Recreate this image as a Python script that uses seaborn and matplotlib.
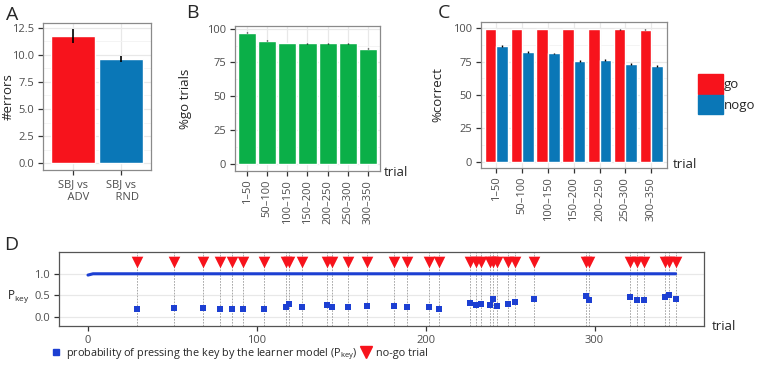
import numpy as np
import pandas as pd
import matplotlib
matplotlib.use("Agg")
import matplotlib.pyplot as plt
import seaborn as sns
from matplotlib.lines import Line2D
from matplotlib.patches import Patch
from matplotlib.ticker import AutoMinorLocator

# ---- data ----
# A: number of errors
a_groups = ["SBJ vs\n    ADV", "SBJ vs\n    RND"]
a_errors = [11.75, 9.6]
a_sem = [0.63, 0.29]

# B / C: trial bins
bins = ["1–50", "50–100", "100–150", "150–200", "200–250", "250–300", "300–350"]
b_go_pct = [97.0, 91.0, 89.4, 89.1, 89.1, 89.1, 85.1]
b_sem = [0.3, 0.4, 0.3, 0.3, 0.3, 0.3, 0.3]

c_go = [99.6, 99.6, 99.6, 99.6, 99.5, 99.2, 99.0]
c_go_sem = [0.2, 0.2, 0.2, 0.2, 0.2, 0.3, 0.3]
c_nogo = [87.0, 82.2, 81.2, 75.7, 76.2, 73.5, 71.7]
c_nogo_sem = [0.7, 0.7, 0.7, 0.6, 0.6, 0.6, 0.6]

# D: learner model Pkey on no-go trials
d_nogo_trials = [29, 51, 68, 78, 85, 92, 104, 117, 119, 127, 141.5, 144.5, 154, 165,
                 181, 189, 202, 208, 226, 230, 233, 238, 240, 242, 249, 253, 264,
                 295, 297, 321, 325, 329, 342, 344, 348]
d_pkey = [0.19, 0.21, 0.21, 0.19, 0.17, 0.17, 0.19, 0.23, 0.30, 0.23, 0.28, 0.23, 0.23, 0.24,
          0.26, 0.23, 0.23, 0.19, 0.32, 0.27, 0.29, 0.28, 0.42, 0.25, 0.29, 0.35, 0.41,
          0.48, 0.38, 0.46, 0.39, 0.39, 0.46, 0.51, 0.42]
# Pkey on go trials (near 1 throughout)
d_go_trial = [0, 3, 348]
d_go_pkey = [0.97, 1.0, 1.0]

red = "#F7131C"
blue = "#0A77B7"
green = "#0BAF48"
dblue = "#1C3FD2"

sns.set_style("white")
plt.rcParams['font.family'] = ['Open Sans', 'DejaVu Sans']
plt.rcParams['mathtext.default'] = 'regular'


def style(ax, border="#8a8a8a", xgrid=True):
    for s in ax.spines.values():
        s.set_visible(True)
        s.set_color(border)
        s.set_linewidth(0.9)
    ax.set_axisbelow(True)
    ax.yaxis.set_minor_locator(AutoMinorLocator(2))
    ax.grid(True, which="major", axis="y", color="#e8e8e8", lw=0.9)
    ax.grid(True, which="minor", axis="y", color="#f3f3f3", lw=0.6)
    if xgrid:
        ax.grid(True, which="major", axis="x", color="#e8e8e8", lw=0.9)
    ax.tick_params(which="major", direction="out", length=3.5, width=0.9,
                   color="#333333", labelcolor="#4d4d4d", labelsize=8, pad=3,
                   bottom=True, left=True)
    ax.tick_params(which="minor", length=0)


def right_xlabel(ax, y, x=1.02):
    ax.set_xlabel("trial", fontsize=9.5)
    ax.xaxis.set_label_coords(x, y)
    ax.xaxis.label.set_ha("left")
    ax.xaxis.label.set_va("center")


fig = plt.figure(figsize=(7.57, 3.70), dpi=100)
axA = fig.add_axes([0.0572, 0.5405, 0.1418, 0.3981])
axB = fig.add_axes([0.3104, 0.5386, 0.1916, 0.3911])
axC = fig.add_axes([0.6354, 0.5468, 0.2453, 0.3929])
axD = fig.add_axes([0.0783, 0.1189, 0.8521, 0.1992])

# ---- A ----
sns.barplot(x=a_groups, y=a_errors, hue=a_groups, palette=[red, blue],
            width=0.9, saturation=1, legend=False, ax=axA)
xa = [p.get_x() + p.get_width() / 2 for p in axA.patches]
axA.errorbar(xa, a_errors, yerr=a_sem, fmt="none", ecolor="black", elinewidth=1.2)
style(axA)
axA.set_xlim(-0.6, 1.6)
axA.set_ylim(-0.62, 12.96)
axA.set_yticks([0, 2.5, 5, 7.5, 10, 12.5])
axA.set_ylabel("#errors", fontsize=9.5)
axA.yaxis.set_label_coords(-0.27, 0.5)

# ---- B ----
sns.barplot(x=bins, y=b_go_pct, color=green, width=0.9, saturation=1, ax=axB)
xb = [p.get_x() + p.get_width() / 2 for p in axB.patches]
axB.errorbar(xb, b_go_pct, yerr=b_sem, fmt="none", ecolor="black", elinewidth=1)
style(axB)
axB.set_xlim(-0.6, 6.6)
axB.set_ylim(-4.85, 101.9)
axB.set_yticks([0, 25, 50, 75, 100])
axB.set_ylabel("%go trials", fontsize=9.5)
axB.yaxis.set_label_coords(-0.295, 0.5)
axB.tick_params(axis="x", rotation=90)
right_xlabel(axB, -0.01, 1.025)

# ---- C ----
df_c = pd.DataFrame({
    "bin": bins * 2,
    "pct": c_go + c_nogo,
    "type": ["go"] * len(bins) + ["nogo"] * len(bins),
})
sns.barplot(data=df_c, x="bin", y="pct", hue="type", palette={"go": red, "nogo": blue},
            width=0.9, saturation=1, legend=False, ax=axC)
for cont, vals, sem in zip(axC.containers, [c_go, c_nogo], [c_go_sem, c_nogo_sem]):
    xc = [p.get_x() + p.get_width() / 2 for p in cont]
    axC.errorbar(xc, vals, yerr=sem, fmt="none", ecolor="black", elinewidth=1)
style(axC)
axC.set_xlim(-0.6, 6.6)
axC.set_ylim(-4.6, 104.6)
axC.set_yticks([0, 25, 50, 75, 100])
axC.set_ylabel("%correct", fontsize=9.5)
axC.yaxis.set_label_coords(-0.195, 0.5)
axC.tick_params(axis="x", rotation=90)
right_xlabel(axC, 0.02, 1.035)

fig.legend(handles=[Patch(color=red, label="go"), Patch(color=blue, label="nogo")],
           loc="center left", bbox_to_anchor=(0.913, 0.745), frameon=False,
           fontsize=9.5, handlelength=1.9, handleheight=1.9, handletextpad=0.1,
           labelspacing=0.05, borderpad=0)

# ---- D ----
for t in d_nogo_trials:
    axD.axvline(t, color="#9a9a9a", lw=0.6, ls=(0, (2, 1.5)), zorder=1)
sns.lineplot(x=d_go_trial, y=d_go_pkey, color=dblue, lw=2.2, ax=axD, zorder=2)
sns.scatterplot(x=d_nogo_trials, y=d_pkey, marker="s", s=16, color=dblue,
                linewidth=0, ax=axD, zorder=3)
sns.scatterplot(x=d_nogo_trials, y=np.full(len(d_nogo_trials), 1.27), marker="v",
                s=70, color=red, linewidth=0, ax=axD, zorder=3)
style(axD, border="#555555", xgrid=False)
axD.yaxis.set_minor_locator(AutoMinorLocator(1))
axD.set_xlim(-17, 365)
axD.set_ylim(-0.216, 1.5)
axD.set_yticks([0, 0.5, 1.0])
axD.set_xticks([0, 100, 200, 300])
axD.set_ylabel(r"P$_{key}$", fontsize=8.5, rotation=0, ha="right", va="center")
axD.yaxis.set_label_coords(-0.047, 0.40)
right_xlabel(axD, -0.01, 1.012)

fig.legend(handles=[
    Line2D([], [], marker="s", ls="none", color=dblue, ms=4.5,
           label=r"probability of pressing the key by the learner model (P$_{key}$)"),
    Line2D([], [], marker="v", ls="none", color=red, ms=9, label="no-go trial")],
    loc="center left", bbox_to_anchor=(0.06, 0.043), ncol=2, frameon=False,
    fontsize=7.8, handlelength=1.0, handletextpad=0.4, columnspacing=0.3, borderpad=0)

# panel letters
for x, y, s in [(0.008, 0.985, "A"), (0.246, 0.99, "B"), (0.578, 0.99, "C"), (0.005, 0.362, "D")]:
    fig.text(x, y, s, fontsize=14, va="top", ha="left")

fig.savefig("out.png", dpi=100)
